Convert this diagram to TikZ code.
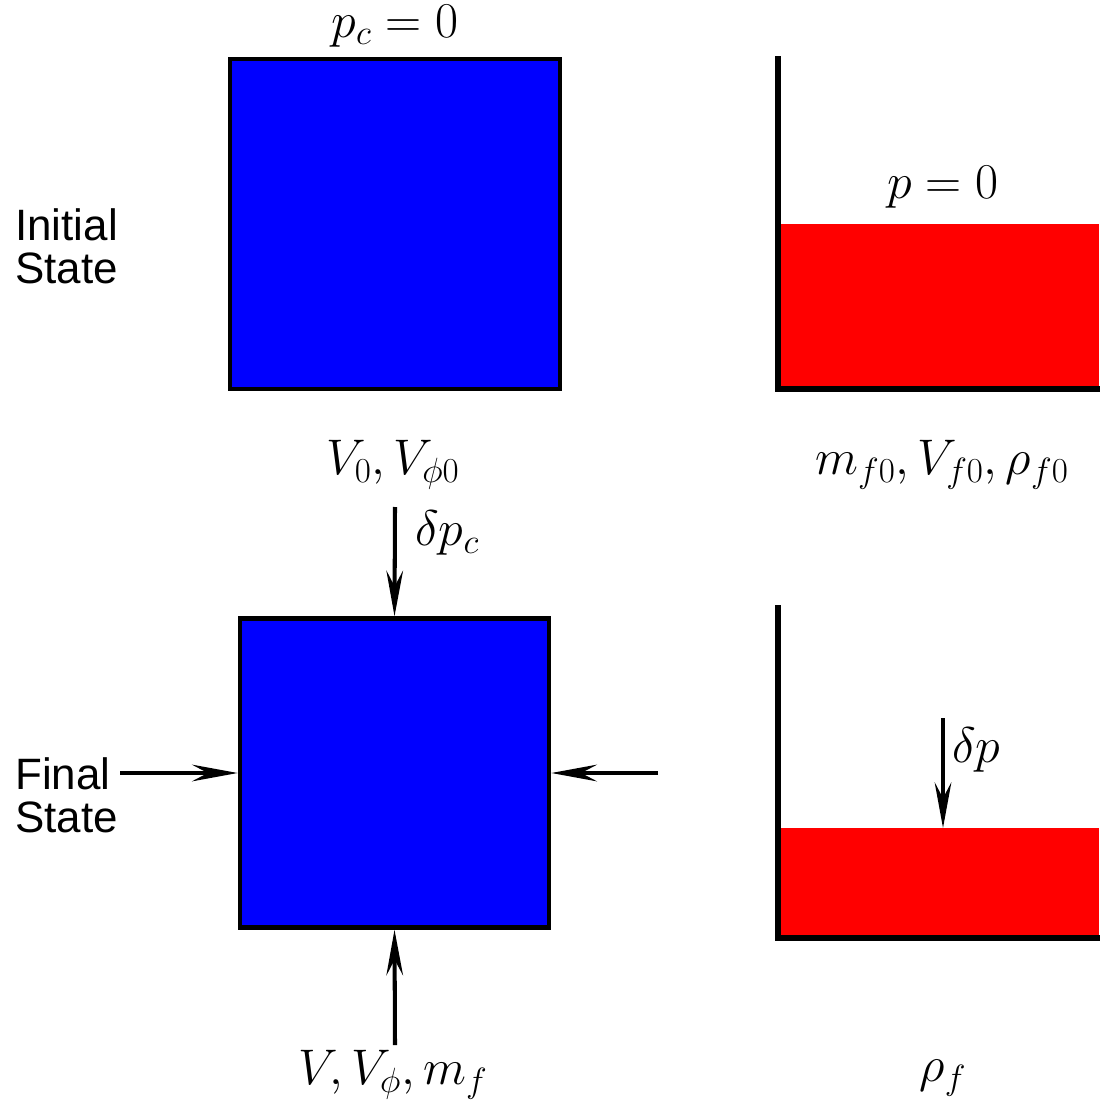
\documentclass[tikz,border=0pt]{standalone}
\usepackage{fontspec}
\usepackage{fix-cm}
\newfontfamily\labelfont{Liberation Sans}
\usetikzlibrary{arrows.meta}
\begin{document}
\begin{tikzpicture}[x=0.02cm,y=-0.02cm,
  blk/.style={draw=black,fill=blue,line width=2.6pt},
  liquid/.style={fill=red,draw=none},
  wall/.style={line width=2.9pt,line cap=rect},
  push/.style={line width=2.3pt,-{Stealth[length=26pt,width=9.5pt,inset=9pt]}},
  mlabel/.style={font=\fontsize{28.5}{32}\selectfont,inner sep=0pt},
  slabel/.style={font=\labelfont\fontsize{25}{24.5}\selectfont,align=left,inner sep=0pt,anchor=west}]
\useasboundingbox (0,0) rectangle (1099,1104);
% top left block
\node[blk,minimum width=330*0.02cm,minimum height=330*0.02cm,inner sep=0pt] (b1) at (395,224) {};
\node[mlabel] (pc) at (395,26) {$p_c=0$};
\node[slabel] (init) at (15,246) {Initial\\State};
\node[mlabel] (v0) at (393,465) {$V_0, V_{\phi0}$};
% top right container
\fill[liquid] (780,224) rectangle (1099,389);
\coordinate (w1t) at (778,59);
\coordinate (w1b) at (778,389);
\coordinate (w1r) at (1099,389);
\draw[wall] (w1t) -- (w1b) -- (w1r);
\node[mlabel] (p0) at (943,187) {$p=0$};
\node[mlabel] (mf0) at (942,465) {$m_{f0},V_{f0},\rho_{f0}$};
% bottom left block
\node[blk,minimum width=309*0.02cm,minimum height=309*0.02cm,inner sep=0pt] (b2) at (394.5,773) {};
\coordinate (at) at (395,507);
\coordinate (al) at (120,773);
\coordinate (ar) at (658,773);
\coordinate (ab) at (395,1045);
\draw[push] (at) -- (b2.north);
\draw[push] (al) -- (b2.west);
\draw[push] (ar) -- (b2.east);
\draw[push] (ab) -- (b2.south);
\node[mlabel,anchor=west] (dpc) at (415,533) {$\delta p_c$};
\node[slabel] (fin) at (15,795) {Final\\State};
\node[mlabel] (vf) at (393,1075) {$V, V_\phi, m_f$};
% bottom right container
\fill[liquid] (780,828) rectangle (1099,938);
\coordinate (w2t) at (778,608);
\coordinate (w2b) at (778,938);
\coordinate (w2r) at (1099,938);
\draw[wall] (w2t) -- (w2b) -- (w2r);
\coordinate (dpt) at (943,718);
\coordinate (dpb) at (943,828);
\draw[push] (dpt) -- (dpb);
\node[mlabel,anchor=west] (dp) at (952,750) {$\delta p$};
\node[mlabel] (rf) at (943,1078) {$\rho_f$};
\end{tikzpicture}
\end{document}
